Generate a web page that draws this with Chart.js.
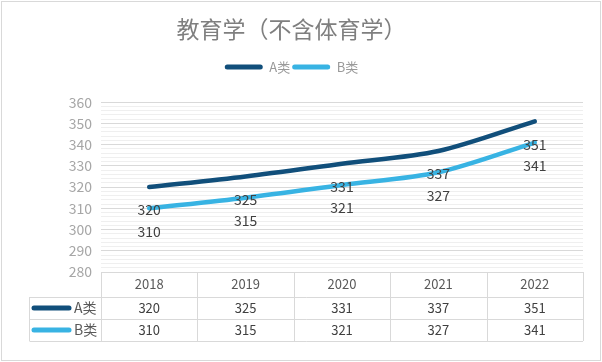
<!DOCTYPE html>
<html>
<head>
<meta charset="utf-8">
<script src="https://cdn.jsdelivr.net/npm/chart.js@4/dist/chart.umd.min.js"></script>
<style>
  body { margin: 0; background: #fff; }
  #wrap { width: 602px; height: 362px; position: relative; }
</style>
</head>
<body>
<div id="wrap"><canvas id="grafico"></canvas></div>
<script>
// dados do gráfico
const anos = ['2018', '2019', '2020', '2021', '2022'];
const nomeA = 'A类';
const nomeB = 'B类';
const valoresA = [320, 325, 331, 337, 351];
const valoresB = [310, 315, 321, 327, 341];
const corA = '#114f7b';
const corB = '#38b3e3';
const fonte = '"Noto Sans CJK SC", "Noto Sans", sans-serif';

// fundo branco e borda externa
const fundoPlugin = {
    id: 'fundo',
    beforeDraw(chart) {
        const ctx = chart.ctx;
        ctx.save();
        ctx.fillStyle = '#fff';
        ctx.fillRect(0, 0, chart.width, chart.height);
        ctx.strokeStyle = '#d9d9d9';
        ctx.lineWidth = 1;
        ctx.strokeRect(1.5, 1.5, chart.width - 3, chart.height - 3);
        ctx.restore();
    }
};

// altura fixa da legenda para a área do gráfico começar no lugar certo
const legendaPlugin = {
    id: 'alturaLegenda',
    afterInit(chart) {
        const leg = chart.legend;
        if (!leg) return;
        const fitOriginal = leg.fit;
        leg.fit = function () {
            fitOriginal.call(this);
            this.height = 43.6;
        };
    }
};

// rótulos de dados abaixo dos pontos
const rotulosPlugin = {
    id: 'rotulos',
    afterDatasetsDraw(chart) {
        const ctx = chart.ctx;
        ctx.save();
        ctx.font = '14px ' + fonte;
        ctx.fillStyle = '#404040';
        ctx.textAlign = 'center';
        ctx.textBaseline = 'middle';
        chart.data.datasets.forEach(function (ds, i) {
            const meta = chart.getDatasetMeta(i);
            meta.data.forEach(function (p, j) {
                ctx.fillText(String(ds.data[j]), p.x, p.y + 23);
            });
        });
        ctx.restore();
    }
};

// tabela de dados abaixo do eixo
const tabelaPlugin = {
    id: 'tabela',
    afterDraw(chart) {
        const ctx = chart.ctx;
        const area = chart.chartArea;
        const x = chart.scales.x;
        const topo = area.bottom;
        const linhas = [topo, topo + 25, topo + 47, topo + 69];
        const esquerda = 29.5;
        const passo = (area.right - area.left) / anos.length;

        ctx.save();
        ctx.strokeStyle = '#d9d9d9';
        ctx.lineWidth = 1;
        ctx.beginPath();
        // linhas horizontais
        ctx.moveTo(area.left, Math.round(linhas[0]) + 0.5);
        ctx.lineTo(area.right, Math.round(linhas[0]) + 0.5);
        for (let k = 1; k < linhas.length; k++) {
            ctx.moveTo(esquerda, Math.round(linhas[k]) + 0.5);
            ctx.lineTo(area.right, Math.round(linhas[k]) + 0.5);
        }
        // linhas verticais
        for (let c = 0; c <= anos.length; c++) {
            const xx = Math.round(area.left + c * passo) + 0.5;
            ctx.moveTo(xx, linhas[0]);
            ctx.lineTo(xx, linhas[3]);
        }
        ctx.moveTo(esquerda, linhas[1]);
        ctx.lineTo(esquerda, linhas[3]);
        ctx.stroke();

        ctx.textAlign = 'center';
        ctx.textBaseline = 'middle';
        ctx.font = '13px ' + fonte;
        ctx.fillStyle = '#595959';
        anos.forEach(function (ano, j) {
            ctx.fillText(ano, x.getPixelForValue(j), (linhas[0] + linhas[1]) / 2);
        });

        const series = [
            { nome: nomeA, cor: corA, valores: valoresA },
            { nome: nomeB, cor: corB, valores: valoresB }
        ];
        series.forEach(function (s, r) {
            const yy = (linhas[r + 1] + linhas[r + 2]) / 2;
            ctx.strokeStyle = s.cor;
            ctx.lineWidth = 5;
            ctx.lineCap = 'round';
            ctx.beginPath();
            ctx.moveTo(34, yy);
            ctx.lineTo(69, yy);
            ctx.stroke();
            ctx.textAlign = 'left';
            ctx.font = '14px ' + fonte;
            ctx.fillStyle = '#595959';
            ctx.fillText(s.nome, 74, yy);
            ctx.textAlign = 'center';
            ctx.font = '13px ' + fonte;
            ctx.fillStyle = '#404040';
            s.valores.forEach(function (v, j) {
                ctx.fillText(String(v), x.getPixelForValue(j), yy);
            });
        });
        ctx.restore();
    }
};

const config = {
    type: 'line',
    data: {
        labels: anos,
        datasets: [{
            label: nomeA,
            data: valoresA,
            borderColor: corA,
            backgroundColor: corA,
            borderWidth: 4.5,
            borderCapStyle: 'round',
            pointRadius: 0,
            tension: 0.3
        }, {
            label: nomeB,
            data: valoresB,
            borderColor: corB,
            backgroundColor: corB,
            borderWidth: 4.5,
            borderCapStyle: 'round',
            pointRadius: 0,
            tension: 0.3
        }]
    },
    options: {
        responsive: true,
        maintainAspectRatio: false,
        animation: false,
        layout: {
            padding: { left: 0, right: 19, top: 0, bottom: 90 }
        },
        plugins: {
            title: {
                display: true,
                text: '教育学（不含体育学）',
                color: '#7f7f7f',
                font: { family: fonte, size: 23, weight: 'normal' },
                padding: { top: 15, bottom: 16 }
            },
            legend: {
                display: true,
                labels: {
                    color: '#999999',
                    font: { family: fonte, size: 13 },
                    boxWidth: 38,
                    boxHeight: 5,
                    padding: 2,
                    useBorderRadius: true,
                    borderRadius: 2.5,
                    generateLabels(chart) {
                        return Chart.defaults.plugins.legend.labels.generateLabels(chart).map(function (item) {
                            item.lineWidth = 0;
                            item.strokeStyle = 'rgba(0,0,0,0)';
                            return item;
                        });
                    }
                }
            },
            tooltip: { enabled: false }
        },
        scales: {
            x: {
                display: false,
                offset: true
            },
            y: {
                min: 280,
                max: 360,
                afterFit(scale) { scale.width = 101; },
                border: { display: false },
                grid: {
                    drawTicks: false,
                    color(ctx) {
                        return ctx.tick && ctx.tick.value % 10 === 0 ? '#d9d9d9' : '#efefef';
                    }
                },
                ticks: {
                    stepSize: 2,
                    autoSkip: false,
                    padding: 9,
                    color: '#a6a6a6',
                    font: { family: fonte, size: 14 },
                    callback(v) { return v % 10 === 0 ? v : ''; }
                }
            }
        }
    },
    plugins: [fundoPlugin, legendaPlugin, rotulosPlugin, tabelaPlugin]
};

new Chart(document.getElementById('grafico'), config);
</script>
</body>
</html>
